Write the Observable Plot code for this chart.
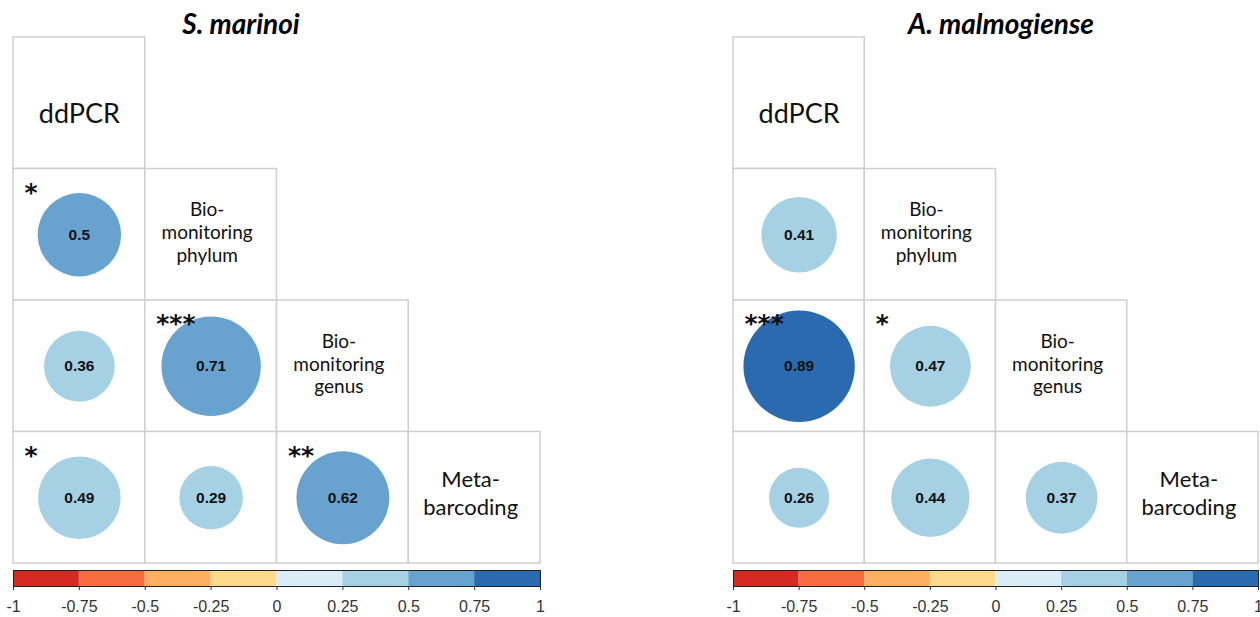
<!DOCTYPE html>
<html><head><meta charset="utf-8">
<script src="https://cdn.jsdelivr.net/npm/d3@7"></script>
<script src="https://cdn.jsdelivr.net/npm/@observablehq/plot@0.6"></script>
<style>
body{margin:0;background:#fff}
#wrap{position:relative;width:1260px;height:617px;overflow:hidden;background:#fff}
#wrap > div{position:absolute}
</style>
</head><body><div id="wrap"></div>
<script>
// ---- data ----
const variables = ["ddPCR", "Bio-\nmonitoring\nphylum", "Bio-\nmonitoring\ngenus", "Meta-\nbarcoding"];
const pairRow = [1, 2, 2, 3, 3, 3];
const pairCol = [0, 0, 1, 0, 1, 2];
const marinoiR = [0.5, 0.36, 0.71, 0.49, 0.29, 0.62];
const marinoiStars = ["*", "", "***", "*", "", "**"];
const malmoR = [0.41, 0.89, 0.47, 0.26, 0.44, 0.37];
const malmoStars = ["", "***", "*", "", "", ""];
const panelTitles = ["S. marinoi", "A. malmogiense"];
const colorBreaks = [-0.75, -0.5, -0.25, 0, 0.25, 0.5, 0.75];
const colorSwatches = ["#d52a22", "#f76d41", "#fdae61", "#fedb8c", "#daecf5", "#a6d1e5", "#67a3ce", "#2b6aaf"];
const legendTicks = [-1, -0.75, -0.5, -0.25, 0, 0.25, 0.5, 0.75, 1];

const colorScale = {type: "threshold", domain: colorBreaks, range: colorSwatches};

function drawPanel(title, rs, stars, left, mL, mR, titleDx) {
  const cells = [];
  for (let i = 0; i < 4; i++) for (let j = 0; j <= i; j++) cells.push({i, j});
  const pairs = rs.map((r, k) => ({row: pairRow[k], col: pairCol[k], r, star: stars[k]}));
  const labels = variables.map((name, k) => ({k, name}));
  const cx = d => d.col + 0.5, cy = d => d.row + 0.5;
  const lx = d => d.k + 0.5;
  const main = Plot.plot({
    width: 630, height: 566,
    marginLeft: mL, marginRight: mR, marginTop: 37, marginBottom: 3,
    x: {domain: [0, 4], axis: null},
    y: {domain: [0, 4], reverse: true, axis: null},
    r: {type: "sqrt", domain: [0, 1], range: [0, 59]},
    color: colorScale,
    style: {fontFamily: "Lato", background: "white", overflow: "visible"},
    marks: [
      Plot.rect(cells, {x1: d => d.j, x2: d => d.j + 1, y1: d => d.i, y2: d => d.i + 1,
        fill: "white", stroke: "#cfcfcf", strokeWidth: 1.5}),
      Plot.dot(pairs, {x: cx, y: cy, r: d => Math.abs(d.r), fill: d => d.r}),
      Plot.text(pairs, {x: cx, y: cy, text: d => String(d.r), fontFamily: "Liberation Sans",
        fontWeight: "bold", fontSize: 15.5, fill: "#111"}),
      Plot.text(pairs.filter(d => d.star), {x: d => d.col, y: d => d.row, text: "star",
        dx: 11, dy: 14, textAnchor: "start", lineAnchor: "top",
        fontFamily: "DejaVu Sans", fontWeight: "bold", fontSize: 25, fill: "#111"}),
      Plot.text(labels.filter(d => d.k === 0), {x: lx, y: lx, text: "name", fontSize: 27, dy: 11, fill: "#111"}),
      Plot.text(labels.filter(d => d.k === 1 || d.k === 2), {x: lx, y: lx, text: "name", fontSize: 19,
        lineHeight: 1.2, dy: -3, dx: -4, fill: "#111"}),
      Plot.text(labels.filter(d => d.k === 3), {x: lx, y: lx, text: "name", fontSize: 22,
        lineHeight: 1.27, dy: -6, dx: -4, fill: "#111"}),
      Plot.text([title], {frameAnchor: "top", dx: titleDx, dy: -12, lineAnchor: "middle",
        fontSize: 28, fontWeight: "bold", fontStyle: "italic", fill: "#000"})
    ]
  });
  const bins = colorSwatches.map((c, k) => ({
    lo: k === 0 ? -1 : colorBreaks[k - 1],
    hi: k === colorSwatches.length - 1 ? 1 : colorBreaks[k]
  }));
  const bar = Plot.plot({
    width: 630, height: 51,
    marginLeft: mL, marginRight: mR, marginTop: 4, marginBottom: 31,
    x: {domain: [-1, 1]},
    color: colorScale,
    style: {fontFamily: "Liberation Sans", background: "white", overflow: "visible"},
    marks: [
      Plot.rect(bins, {x1: "lo", x2: "hi", fill: d => (d.lo + d.hi) / 2}),
      Plot.frame({stroke: "#222", strokeWidth: 1}),
      Plot.axisX({ticks: legendTicks, tickFormat: () => "", tickSize: 4, color: "#333", label: null}),
      Plot.text(legendTicks, {x: d => d, frameAnchor: "bottom", lineAnchor: "middle", dy: 20,
        text: d => `${d}`, fontSize: 16, fontFamily: "Liberation Sans", fill: "#333"})
    ]
  });
  const wrap = document.getElementById("wrap");
  const d1 = document.createElement("div");
  d1.style.left = left + "px"; d1.style.top = "0px";
  d1.appendChild(main);
  const d2 = document.createElement("div");
  d2.style.left = left + "px"; d2.style.top = "566px";
  d2.appendChild(bar);
  wrap.appendChild(d1); wrap.appendChild(d2);
}

drawPanel(panelTitles[0], marinoiR, marinoiStars, 0, 13, 90, -36);
drawPanel(panelTitles[1], malmoR, malmoStars, 630, 103, 2, 5);
</script>
</body></html>
